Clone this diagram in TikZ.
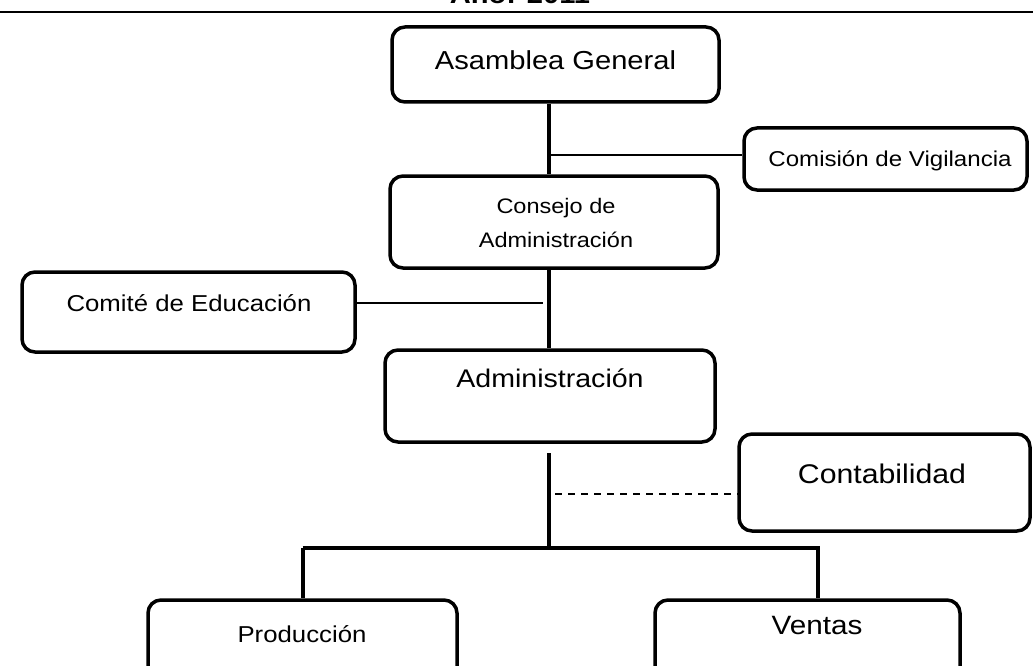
\documentclass[tikz,border=0pt]{standalone}
\usepackage{fontspec}
\setmainfont{Liberation Sans}[FakeStretch=1.12]
\usetikzlibrary{calc}
\begin{document}
\begin{tikzpicture}[x=1pt,y=-1pt,
  box/.style={draw=black,line width=3.5pt,rounded corners=13pt,inner sep=0pt},
  txt/.style={inner sep=0pt,align=center},
  spine/.style={line width=4pt},
  branch/.style={line width=1.6pt},
  dashline/.style={line width=1.8pt,dash pattern=on 7pt off 6pt}]
\clip (0,0) rectangle (1033,666);
\fill[white] (0,0) rectangle (1033,666);
% title (cut off at the top edge)
\node[txt,anchor=base,font=\bfseries\fontsize{26}{30}\selectfont] (title) at (520,3.5) {Año: 2011};
\draw[line width=1.8pt] (0,12) -- (1033,12);
% boxes
\node[box,minimum width=327pt,minimum height=75pt] (ag) at (555.5,64.5) {};
\node[txt,font=\fontsize{26}{30}\selectfont] (tag) at (555.5,60) {Asamblea General};
\node[box,minimum width=283pt,minimum height=62pt] (cv) at (885.5,159) {};
\node[txt,font=\fontsize{21.5}{25}\selectfont] (tcv) at (890,161) {Comisión de Vigilancia};
\node[box,minimum width=328pt,minimum height=92pt] (ca) at (554,222) {};
\node[txt,font=\fontsize{21}{34}\selectfont] (tca) at (556,223) {Consejo de\\Administración};
\node[box,minimum width=333pt,minimum height=80pt] (ce) at (188.5,312) {};
\node[txt,font=\fontsize{23}{28}\selectfont] (tce) at (189,303) {Comité de Educación};
\node[box,minimum width=330pt,minimum height=92pt] (ad) at (550,396) {};
\node[txt,font=\fontsize{25.5}{30}\selectfont] (tad) at (550,378) {Administración};
\node[box,minimum width=291pt,minimum height=97pt] (co) at (884.5,482.5) {};
\node[txt,font=\fontsize{27}{32}\selectfont] (tco) at (882,474) {Contabilidad};
\node[box,minimum width=309pt,minimum height=100pt] (pr) at (302.5,650) {};
\node[txt,font=\fontsize{23}{28}\selectfont] (tpr) at (302,634) {Producción};
\node[box,minimum width=305pt,minimum height=100pt] (ve) at (807.5,650) {};
\node[txt,font=\fontsize{26.5}{30}\selectfont] (tve) at (817,626) {Ventas};
% connectors
\coordinate (sp) at (549,0);
\coordinate (j1) at (549,155);
\coordinate (j2) at (543,303);
\coordinate (j3) at (555,494);
\coordinate (adl) at (549,453);
\coordinate (bar) at (549,548);
\draw[spine] (sp |- ag.south) -- (sp |- ca.north);
\draw[spine] (sp |- ca.south) -- (sp |- ad.north);
\draw[spine] (adl) -- (bar);
\draw[branch] (j1) -- (j1 -| cv.west);
\draw[branch] (ce.east |- j2) -- (j2);
\draw[dashline] (j3) -- (j3 -| co.west);
\draw[spine] (bar -| pr.north) -- (bar -| 818,0) -- (818,0 |- ve.north);
\draw[spine] (bar -| pr.north) -- (pr.north);
\end{tikzpicture}
\end{document}
